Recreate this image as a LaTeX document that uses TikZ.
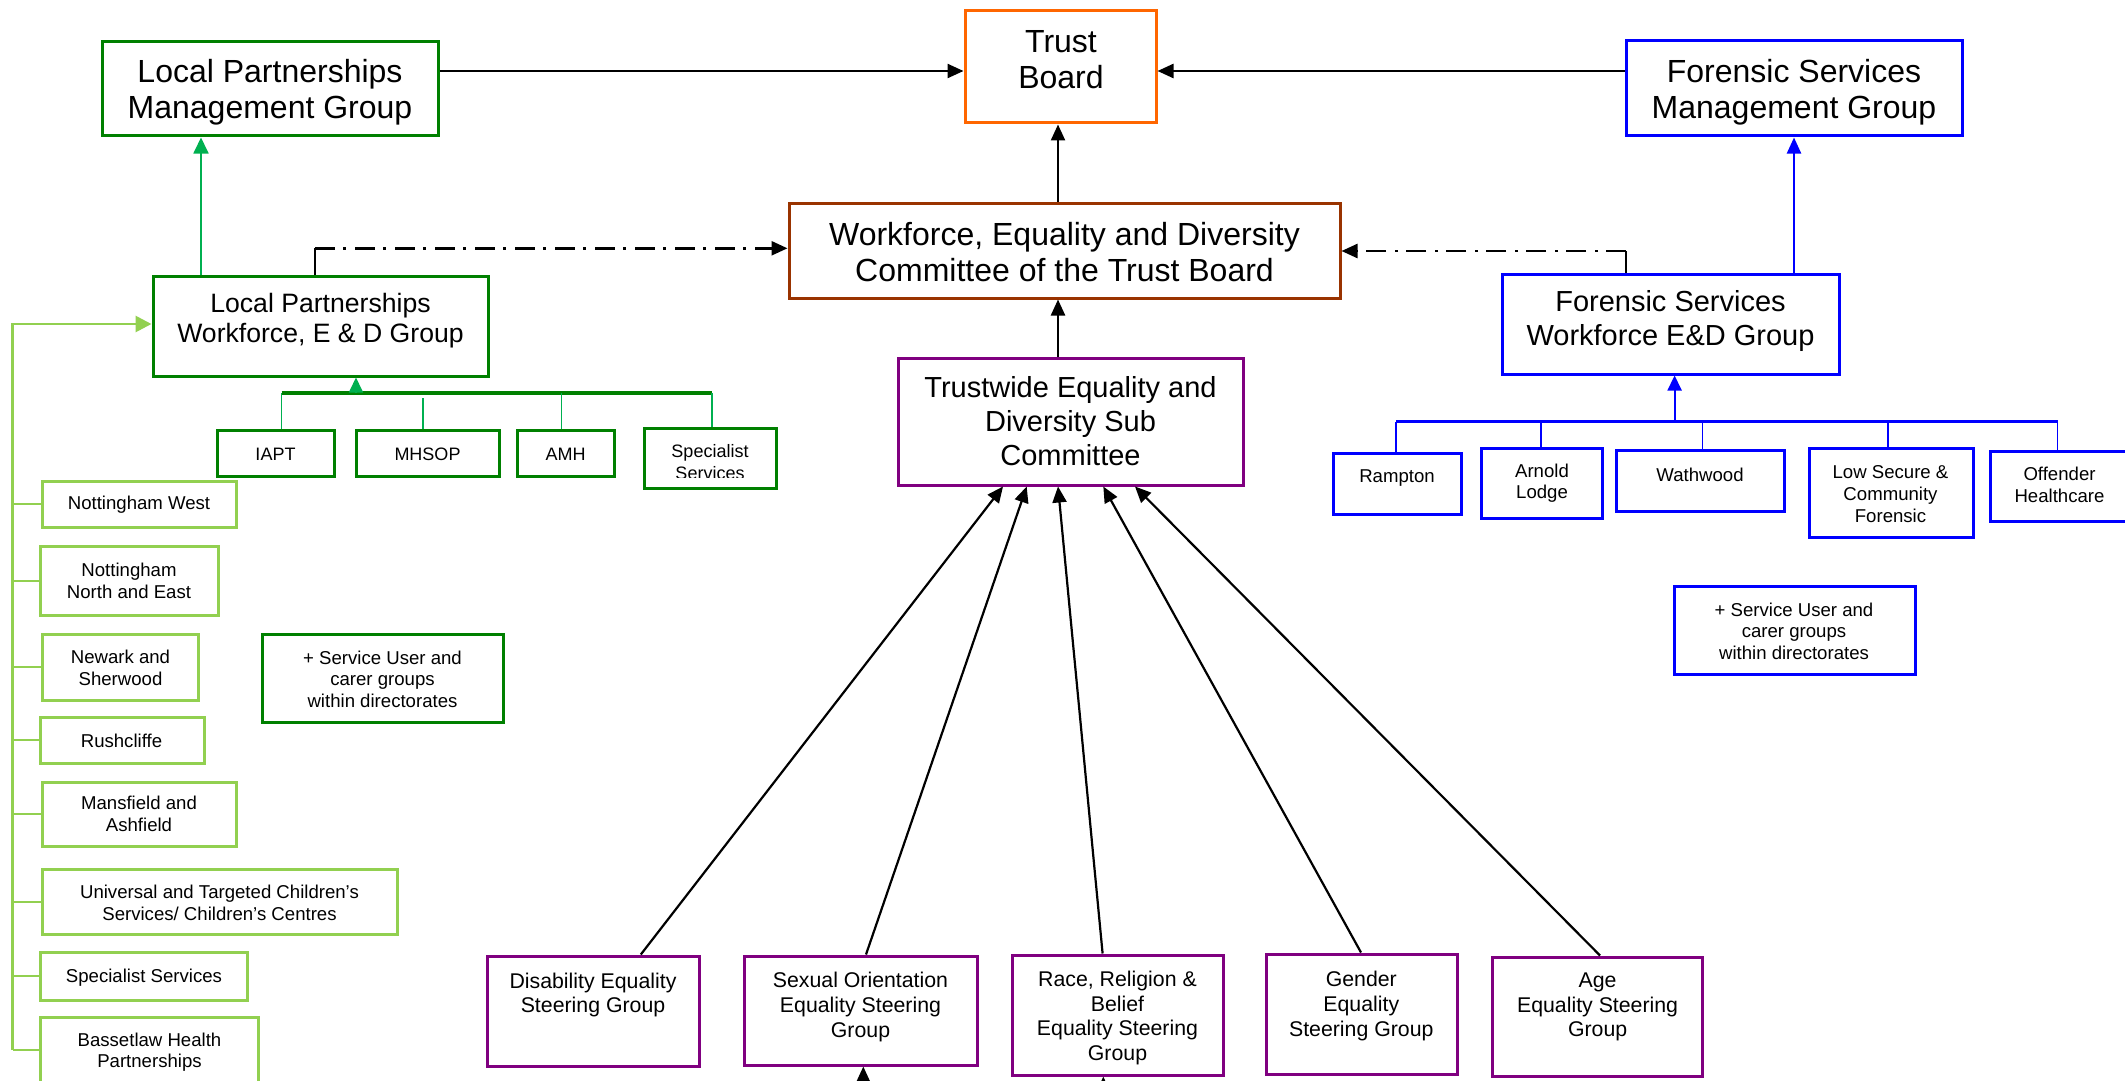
\documentclass[tikz,border=0pt]{standalone}
\usepackage{fontspec}
\setmainfont{Liberation Sans}
\usetikzlibrary{arrows.meta,fit}
\definecolor{tborange}{HTML}{FF6600}
\definecolor{wbrown}{HTML}{993300}
\definecolor{tpurple}{HTML}{800080}
\definecolor{dgreen}{HTML}{008000}
\definecolor{lgreen}{HTML}{92D050}
\definecolor{agreen}{HTML}{00B050}
\definecolor{fblue}{HTML}{0000FF}
\newcommand\mybox[6]{\node[bx,#6,fit={(#2,#3) (#4,#5)}] (#1) {};}
\begin{document}
\begin{tikzpicture}[x=0.5pt,y=-0.5pt,
  bx/.style={draw, line width=1.5pt, inner sep=0pt},
  tbig/.style={font=\fontsize{16}{18}\selectfont, align=center, inner sep=0pt},
  tmid/.style={font=\fontsize{14.5}{17}\selectfont, align=center, inner sep=0pt},
  tlpw/.style={font=\fontsize{13.3}{15}\selectfont, align=center, inner sep=0pt},
  tst/.style={font=\fontsize{10.65}{12.3}\selectfont, align=center, inner sep=0pt},
  tsm/.style={font=\fontsize{9.3}{10.8}\selectfont, align=center, inner sep=0pt},
  tiny/.style={font=\fontsize{9}{10.8}\selectfont, align=center, inner sep=0pt},
  arr/.style={-{Triangle[length=8pt,width=7pt]}, line width=1.2pt},
  sarr/.style={-{Triangle[length=8pt,width=7pt]}, line width=1.1pt},
  dashdotline/.style={dash pattern=on 10pt off 4pt on 1.5pt off 4.5pt},
]
\useasboundingbox (0,0) rectangle (2125,1081);

% ---- main boxes
\mybox{tb}{965}{11}{1156}{123}{tborange}
\mybox{lpmg}{102}{42}{438}{136}{dgreen}
\mybox{fsmg}{1626}{41}{1962}{136}{fblue}
\mybox{wedc}{789}{203}{1340}{298}{wbrown}
\mybox{lpwed}{153}{276}{488}{376}{dgreen}
\mybox{fswed}{1502}{274}{1839}{374}{fblue}
\mybox{tedsc}{898}{358}{1243}{485}{tpurple}

\node[tbig] (tb-t) at (1061,60) {Trust\\Board};
\node[tbig] (lpmg-t) at (270,92) {Local Partnerships\\Management Group};
\node[tbig] (fsmg-t) at (1794,92) {Forensic Services\\Management Group};
\node[tbig] (wedc-t) at (1064.5,252) {Workforce, Equality and Diversity\\Committee of the Trust Board};
\node[tlpw] (lpwed-t) at (320.5,321) {Local Partnerships\\Workforce, E \& D Group};
\node[tmid] (fswed-t) at (1670.5,321) {Forensic Services\\Workforce E\&D Group};
\node[tmid] (tedsc-t) at (1070.5,421.5) {Trustwide Equality and\\Diversity Sub\\Committee};

% ---- LP directorate boxes
\mybox{iapt}{217}{430}{334}{476}{dgreen}
\mybox{mhsop}{356}{430}{499}{476}{dgreen}
\mybox{amh}{517}{430}{614}{476}{dgreen}
\mybox{lpspec}{644}{428}{776}{488}{dgreen}
\node[tiny] (iapt-t) at (275.5,454) {IAPT};
\node[tiny] (mhsop-t) at (427.5,454) {MHSOP};
\node[tiny] (amh-t) at (565.5,454) {AMH};
\begin{scope}
\clip (640,420) rectangle (780,477);
\node[tiny] (lpspec-t) at (710,462) {Specialist\\Services};
\end{scope}

% ---- LP locality boxes
\mybox{nw}{42}{481}{236}{527}{lgreen}
\mybox{nne}{40}{546}{218}{615}{lgreen}
\mybox{ns}{42}{634}{198}{700}{lgreen}
\mybox{rush}{40}{717}{204}{763}{lgreen}
\mybox{mans}{42}{782}{236}{846}{lgreen}
\mybox{univ}{42}{869}{397}{934}{lgreen}
\mybox{lsspec}{40}{952}{247}{1000}{lgreen}
\mybox{bass}{40}{1017}{258}{1090}{lgreen}
\node[tsm] (nw-t) at (139,505) {Nottingham West};
\node[tsm] (nne-t) at (129,581) {Nottingham\\North and East};
\node[tsm] (ns-t) at (120.5,668) {Newark and\\Sherwood};
\node[tsm] (rush-t) at (121.5,741) {Rushcliffe};
\node[tsm] (mans-t) at (139,814) {Mansfield and\\Ashfield};
\node[tsm] (univ-t) at (219.5,903) {Universal and Targeted Children’s\\Services/ Children’s Centres};
\node[tsm] (lsspec-t) at (144,978) {Specialist Services};
\node[tsm] (bass-t) at (149.5,1052) {Bassetlaw Health\\Partnerships};

\mybox{lpsu}{262}{634}{503}{722}{dgreen}
\node[tsm] (lpsu-t) at (382.5,679) {+ Service User and\\carer groups\\within directorates};

% ---- Forensic boxes
\mybox{ramp}{1333}{453}{1461}{514}{fblue}
\mybox{arn}{1481}{448}{1602}{518}{fblue}
\mybox{wath}{1616}{450}{1784}{511}{fblue}
\mybox{lowsec}{1809}{448}{1973}{537}{fblue}
\mybox{off}{1990}{451}{2129}{521}{fblue}
\node[tsm] (ramp-t) at (1397,478) {Rampton};
\node[tsm] (arn-t) at (1542,483) {Arnold\\Lodge};
\node[tsm] (wath-t) at (1700,475) {Wathwood};
\node[tsm] (lowsec-t) at (1890.5,494) {Low Secure \&\\Community\\Forensic};
\node[tsm] (off-t) at (2059.5,485) {Offender\\Healthcare};
\mybox{fssu}{1674}{586}{1915}{674}{fblue}
\node[tsm] (fssu-t) at (1794,631) {+ Service User and\\carer groups\\within directorates};

% ---- Steering groups
\mybox{dis}{487}{956}{699}{1066}{tpurple}
\mybox{so}{744}{956}{977}{1065}{tpurple}
\mybox{race}{1012}{955}{1223}{1075}{tpurple}
\mybox{gen}{1266}{954}{1457}{1074}{tpurple}
\mybox{age}{1492}{957}{1702}{1076}{tpurple}
\node[tst] (dis-t) at (593,995) {Disability Equality\\Steering Group};
\node[tst] (so-t) at (860.5,1007) {Sexual Orientation\\Equality Steering\\Group};
\node[tst] (race-t) at (1117.5,1018) {Race, Religion \&\\Belief\\Equality Steering\\Group};
\node[tst] (gen-t) at (1361.3,1006) {Gender\\Equality\\Steering Group};
\node[tst] (age-t) at (1597.6,1007) {Age\\Equality Steering\\Group};

% ---- top connectors
\draw[arr] (lpmg.east |- 0,71) -- (tb.west |- 0,71);
\draw[arr] (fsmg.west |- 0,71) -- (tb.east |- 0,71);
\draw[arr] (wedc.north -| 1058,0) -- (tb.south -| 1058,0);
\draw[arr] (tedsc.north -| 1058,0) -- (wedc.south -| 1058,0);
\draw[agreen, line width=0.9pt, -{Triangle[length=8pt,width=7.5pt]}] (lpwed.north -| 201,0) -- (lpmg.south -| 201,0);
\draw[fblue, line width=1.1pt, -{Triangle[length=8pt,width=7pt]}] (fswed.north -| 1794,0) -- (fsmg.south -| 1794,0);

% ---- dash-dot links
\coordinate (dl) at (315,248.3);
\coordinate (dr) at (1626,251);
\draw[line width=0.6pt] (lpwed.north -| dl) -- (dl);
\draw[arr, dashdotline] (dl) -- (wedc.west |- dl);
\draw[line width=0.6pt] (fswed.north -| dr) -- (dr);
\draw[arr, dashdotline] (dr) -- (wedc.east |- dr);

% ---- LP directorate bus
\coordinate (gbl) at (281.6,393);
\coordinate (gbr) at (712,393);
\draw[dgreen, line width=1.6pt] (gbl) -- (gbr);
\draw[agreen, line width=0.9pt, -{Triangle[length=7.5pt,width=7pt]}] (356,393) -- (lpwed.south -| 356,0);
\draw[agreen, line width=0.7pt] (gbl) -- (iapt.north -| gbl);
\draw[agreen, line width=0.7pt] (423,398) -- (mhsop.north -| 423,0);
\draw[agreen, line width=0.7pt] (561.4,393) -- (amh.north -| 561.4,0);
\draw[agreen, line width=0.7pt] (gbr) -- (lpspec.north -| gbr);

% ---- LP locality column
\coordinate (colt) at (12.7,324);
\coordinate (colb) at (12.7,1050);
\draw[lgreen, line width=1.4pt, -{Triangle[length=8pt,width=8pt]}] (colb) -- (colt) -- (lpwed.west |- colt);
\foreach \n in {nw,nne,ns,rush,mans,univ,lsspec}
  \draw[lgreen, line width=1pt] (\n.west -| colt) -- (\n.west);
\draw[lgreen, line width=1pt] (colb) -- (bass.west |- colb);

% ---- Forensic bus
\coordinate (bbl) at (1396,421.7);
\coordinate (bbr) at (2057.6,421.7);
\draw[fblue, line width=1.5pt] (bbl) -- (bbr);
\draw[fblue, line width=1.1pt, -{Triangle[length=7.5pt,width=7pt]}] (1674.6,421.7) -- (fswed.south -| 1674.6,0);
\draw[fblue, line width=0.7pt] (bbl) -- (ramp.north -| bbl);
\draw[fblue, line width=0.7pt] (1541,421.7) -- (arn.north -| 1541,0);
\draw[fblue, line width=0.7pt] (1702.5,421.7) -- (wath.north -| 1702.5,0);
\draw[fblue, line width=0.7pt] (1888,421.7) -- (lowsec.north -| 1888,0);
\draw[fblue, line width=0.7pt] (bbr) -- (off.north -| bbr);

% ---- steering arrows
\draw[sarr] (dis.north -| 640.8,0) -- (tedsc.south -| 1003,0);
\draw[sarr] (so.north -| 866,0) -- (tedsc.south -| 1026.7,0);
\draw[sarr] (race.north -| 1102.6,0) -- (tedsc.south -| 1058,0);
\draw[sarr] (gen.north -| 1361,0) -- (tedsc.south -| 1103.3,0);
\draw[sarr] (age.north -| 1600,0) -- (tedsc.south -| 1135,0);

% ---- arrows from below
\coordinate (sob) at (863.3,1110);
\coordinate (raceb) at (1103.3,1110);
\draw[sarr] (sob) -- (so.south -| sob);
\draw[sarr] (raceb) -- (race.south -| raceb);
\end{tikzpicture}
\end{document}
